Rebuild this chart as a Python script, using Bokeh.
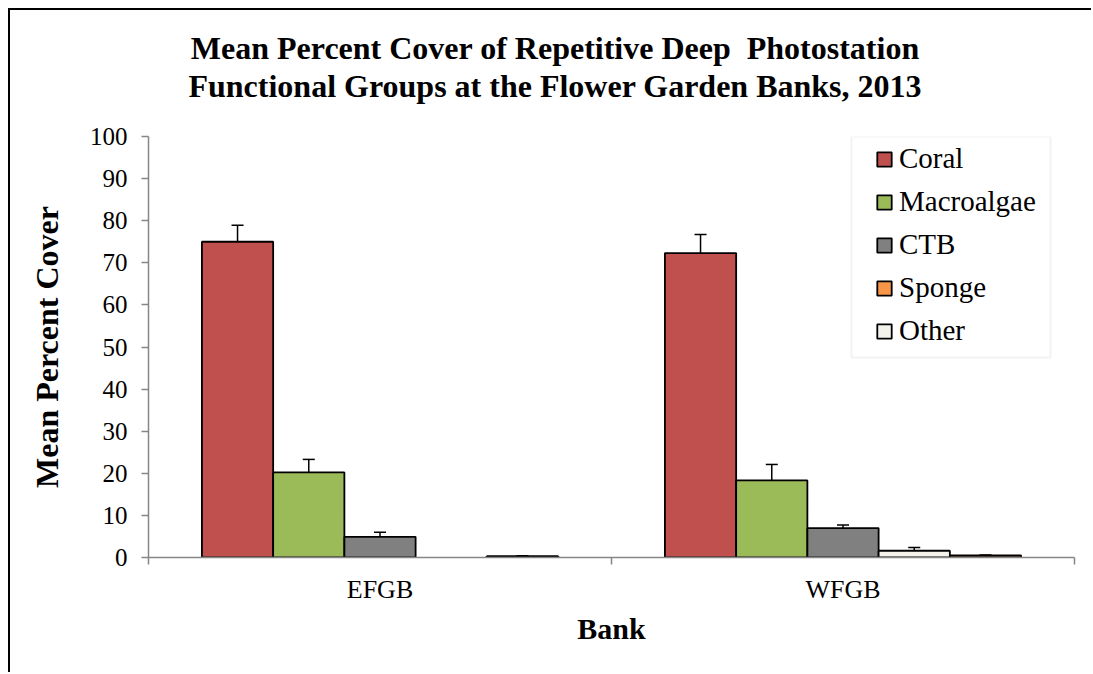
from bokeh.plotting import figure
from bokeh.layouts import column
from bokeh.models import (FixedTicker, Legend, LegendItem, ColumnDataSource, Div,
                          Whisker, TeeHead, Range1d, BoxAnnotation)
from bokeh.embed import file_html
from bokeh.resources import INLINE

# ---------------- data ----------------
banks = ["EFGB", "WFGB"]
series_names = ["Coral", "Macroalgae", "CTB", "Sponge", "Other"]
coral = [75.0, 72.3]
coral_err = [3.9, 4.4]
macroalgae = [20.2, 18.3]
macroalgae_err = [3.1, 3.8]
ctb = [4.9, 7.0]
ctb_err = [1.1, 0.7]
sponge = [0.3, 0.5]
sponge_err = [0.1, 0.1]
other = [0.0, 1.6]
other_err = [0.0, 0.8]
y_ticks = [0, 10, 20, 30, 40, 50, 60, 70, 80, 90, 100]
title_lines = ["Mean Percent Cover of Repetitive Deep&nbsp; Photostation",
               "Functional Groups at the Flower Garden Banks, 2013"]

values = [coral, macroalgae, ctb, sponge, other]
errors = [coral_err, macroalgae_err, ctb_err, sponge_err, other_err]
colors = ["#C0504D", "#9BBB59", "#808080", "#F79646", "#F3F2EB"]
slots = [0, 1, 2, 4, 3]   # left-to-right position of each series within a group

FONT = "Liberation Serif"
AXIS_COL = "#868686"

# ---- title block ----
title_div = Div(
    text=("<div style=\"width:1072px; margin-left:9px; padding-top:19px; text-align:center; "
          "font-family:'Liberation Serif', serif; font-weight:bold; font-size:32px; "
          "line-height:38px; color:black;\">" + "<br>".join(title_lines) + "</div>"),
    width=1081, height=110, margin=0)

p = figure(width=1081, height=552, x_range=Range1d(0, 2 * len(banks)), y_range=Range1d(0, 100),
           output_backend="svg", toolbar_location=None, margin=0,
           min_border_left=138, min_border_right=17, min_border_top=16, min_border_bottom=115)
p.outline_line_color = None
p.xgrid.visible = False
p.ygrid.visible = False
p.background_fill_color = "white"
p.border_fill_color = "white"

# ---- axes ----
p.yaxis.ticker = FixedTicker(ticks=y_ticks)
p.yaxis.axis_line_color = AXIS_COL
p.yaxis.axis_line_width = 1.5
p.yaxis.major_tick_line_color = AXIS_COL
p.yaxis.major_tick_line_width = 1.5
p.yaxis.major_tick_out = 7
p.yaxis.major_tick_in = 0
p.yaxis.minor_tick_line_color = None
p.yaxis.major_label_text_font = FONT
p.yaxis.major_label_text_font_size = "25px"
p.yaxis.major_label_text_color = "black"
p.yaxis.major_label_standoff = 14
p.yaxis.axis_label = "Mean Percent Cover"
p.yaxis.axis_label_text_font = FONT
p.yaxis.axis_label_text_font_size = "32px"
p.yaxis.axis_label_text_font_style = "bold"
p.yaxis.axis_label_text_color = "black"
p.yaxis.axis_label_standoff = 22

centers = [2 * i + 1 for i in range(len(banks))]
p.xaxis.ticker = FixedTicker(ticks=centers, minor_ticks=list(range(0, 2 * len(banks) + 1, 2)))
p.xaxis.major_label_overrides = {c: b for c, b in zip(centers, banks)}
p.xaxis.axis_line_color = AXIS_COL
p.xaxis.axis_line_width = 1.5
p.xaxis.major_tick_line_color = None
p.xaxis.major_tick_out = 0
p.xaxis.major_tick_in = 0
p.xaxis.minor_tick_line_color = AXIS_COL
p.xaxis.minor_tick_line_width = 1.5
p.xaxis.minor_tick_out = 7
p.xaxis.minor_tick_in = 0
p.xaxis.major_label_text_font = FONT
p.xaxis.major_label_text_font_size = "26px"
p.xaxis.major_label_text_color = "black"
p.xaxis.major_label_standoff = 10
p.xaxis.axis_label = "Bank"
p.xaxis.axis_label_text_font = FONT
p.xaxis.axis_label_text_font_size = "30px"
p.xaxis.axis_label_text_font_style = "bold"
p.xaxis.axis_label_text_color = "black"
p.xaxis.axis_label_standoff = 5

# ---- bars ----
bar_w = 2 / 6.5
items = []
for name, vals, errs, col, slot in zip(series_names, values, errors, colors, slots):
    xs, tops, ups = [], [], []
    for c, v, e in zip(centers, vals, errs):
        if v > 0:
            xs.append(c + (slot - 2) * bar_w)
            tops.append(v)
            ups.append(v + e)
    src = ColumnDataSource(dict(x=xs, top=tops, upper=ups))
    r = p.vbar(x="x", top="top", width=bar_w, source=src, fill_color=col,
               line_color="black", line_width=1.8)
    w = Whisker(base="x", upper="upper", lower="top", source=src, dimension="height",
                line_color="black", line_width=1.5,
                upper_head=TeeHead(size=12, line_color="black", line_width=1.5), lower_head=None)
    p.add_layout(w)
    items.append(LegendItem(label=name, renderers=[r]))

# ---- legend ----
box = BoxAnnotation(left=703, right=902, bottom=200, top=421,
                    left_units="screen", right_units="screen",
                    bottom_units="screen", top_units="screen",
                    fill_color="white", fill_alpha=1.0, line_color="#D4D4D4", line_width=2)
p.add_layout(box)
legend = Legend(items=items, location=(727, 205), padding=0, spacing=0, margin=0,
                label_height=43, glyph_height=18, glyph_width=18, label_standoff=6,
                label_text_font=FONT, label_text_font_size="29px", label_text_color="black",
                border_line_color=None, background_fill_alpha=0)
p.add_layout(legend)

layout = column(title_div, p, spacing=0)
layout.styles = {"border-left": "2px solid black", "border-top": "2px solid black",
                 "margin-left": "8px", "margin-top": "8px", "background-color": "white"}

open("out.html", "w").write(file_html(layout, INLINE))
